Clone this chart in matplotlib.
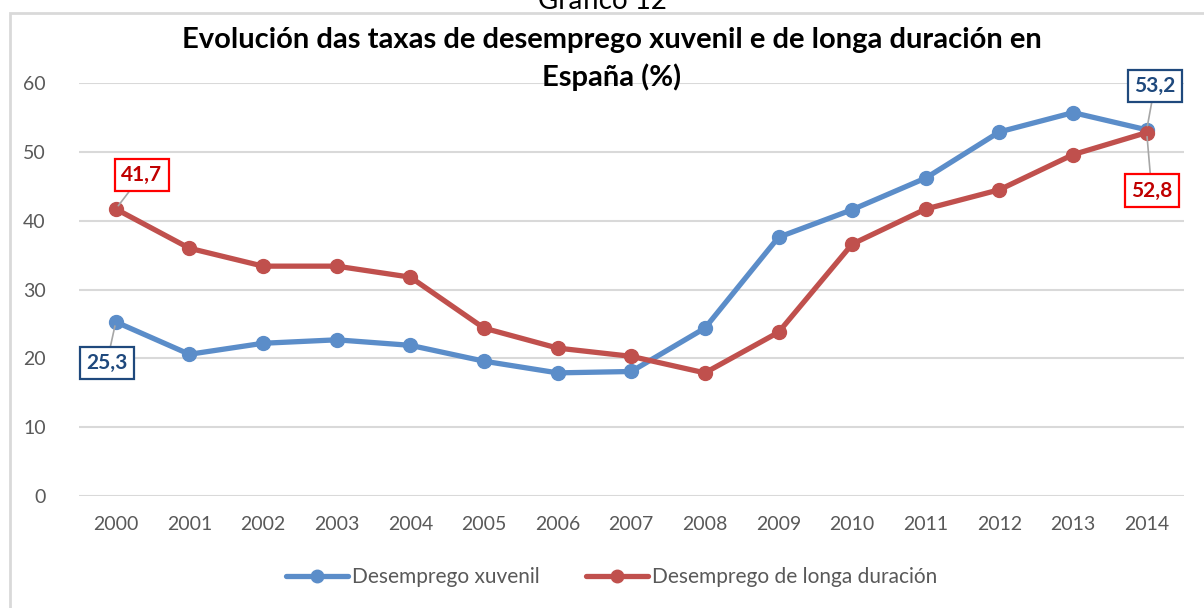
import matplotlib.pyplot as plt
from matplotlib.patches import Rectangle

plt.rcParams['font.family'] = ['Lato', 'DejaVu Sans']

# data
years = ['2000', '2001', '2002', '2003', '2004', '2005', '2006', '2007',
         '2008', '2009', '2010', '2011', '2012', '2013', '2014']
xuvenil = [25.3, 20.6, 22.2, 22.7, 21.9, 19.6, 17.9, 18.1,
           24.4, 37.6, 41.6, 46.2, 52.9, 55.7, 53.2]
longa = [41.7, 36.0, 33.4, 33.4, 31.8, 24.4, 21.5, 20.3,
         17.9, 23.8, 36.6, 41.7, 44.5, 49.6, 52.8]
yticks = [0, 10, 20, 30, 40, 50, 60]

blue = '#5B8DC9'
red = '#C0504D'
grid = '#D9D9D9'
tick_col = '#595959'

fig = plt.figure(figsize=(12.04, 6.08), dpi=100)
ax = fig.add_axes([0.0656, 0.184, 0.9174, 0.6795])

x = list(range(len(years)))
ax.plot(x, xuvenil, color=blue, lw=3.8, marker='o', ms=10,
        solid_capstyle='round', label='Desemprego xuvenil', zorder=3)
ax.plot(x, longa, color=red, lw=3.8, marker='o', ms=10,
        solid_capstyle='round', label='Desemprego de longa duración', zorder=3)

ax.set_xlim(-0.5, len(years) - 0.5)
ax.set_ylim(0, 60)
ax.set_xticks(x)
ax.set_xticklabels(years)
ax.set_yticks(yticks)
ax.tick_params(length=0, labelsize=14, labelcolor=tick_col)
ax.tick_params(axis='x', pad=14)
ax.tick_params(axis='y', pad=24)
ax.grid(axis='y', color=grid, lw=1.5)
ax.set_axisbelow(True)
for s in ax.spines.values():
    s.set_visible(False)


def label(i, vals, txt, off, edge, tcol):
    ax.annotate(txt, xy=(i, vals[i]), xytext=off, textcoords='offset pixels',
                ha='center', va='center', fontsize=15, fontweight='bold',
                color=tcol, zorder=5,
                bbox=dict(boxstyle='square,pad=0.3', fc='white', ec=edge, lw=1.6),
                arrowprops=dict(arrowstyle='-', color='#A6A6A6', lw=1.2,
                                shrinkA=0, shrinkB=3))


label(0, longa, '41,7', (26, 34), '#FF0000', '#C00000')
label(0, xuvenil, '25,3', (-9, -41), '#1F497D', '#1F497D')
label(14, xuvenil, '53,2', (8, 44), '#1F497D', '#1F497D')
label(14, longa, '52,8', (5, -58), '#FF0000', '#C00000')

fig.text(0.508, 0.935, 'Evolución das taxas de desemprego xuvenil e de longa duración en',
         ha='center', va='center', fontsize=21, fontweight='bold', color='black')
fig.text(0.508, 0.873, 'España (%)', ha='center', va='center',
         fontsize=21, fontweight='bold', color='black')
fig.text(0.5, 0.998, 'Gráfico 12', ha='center', va='center', fontsize=20, color='black')

fig.patches.append(Rectangle((10 / 1204, -0.1), 1.2, 1.1 - 13 / 608,
                             transform=fig.transFigure, fill=False,
                             ec='#D9D9D9', lw=2, zorder=0))

leg = fig.legend(loc='center', bbox_to_anchor=(0.508, 0.051), ncol=2, frameon=False,
                 fontsize=15, handlelength=3.0, columnspacing=2.2, handletextpad=0.2,
                 markerscale=0.9)
for t in leg.get_texts():
    t.set_color(tick_col)

fig.savefig('out.png', dpi=100)
